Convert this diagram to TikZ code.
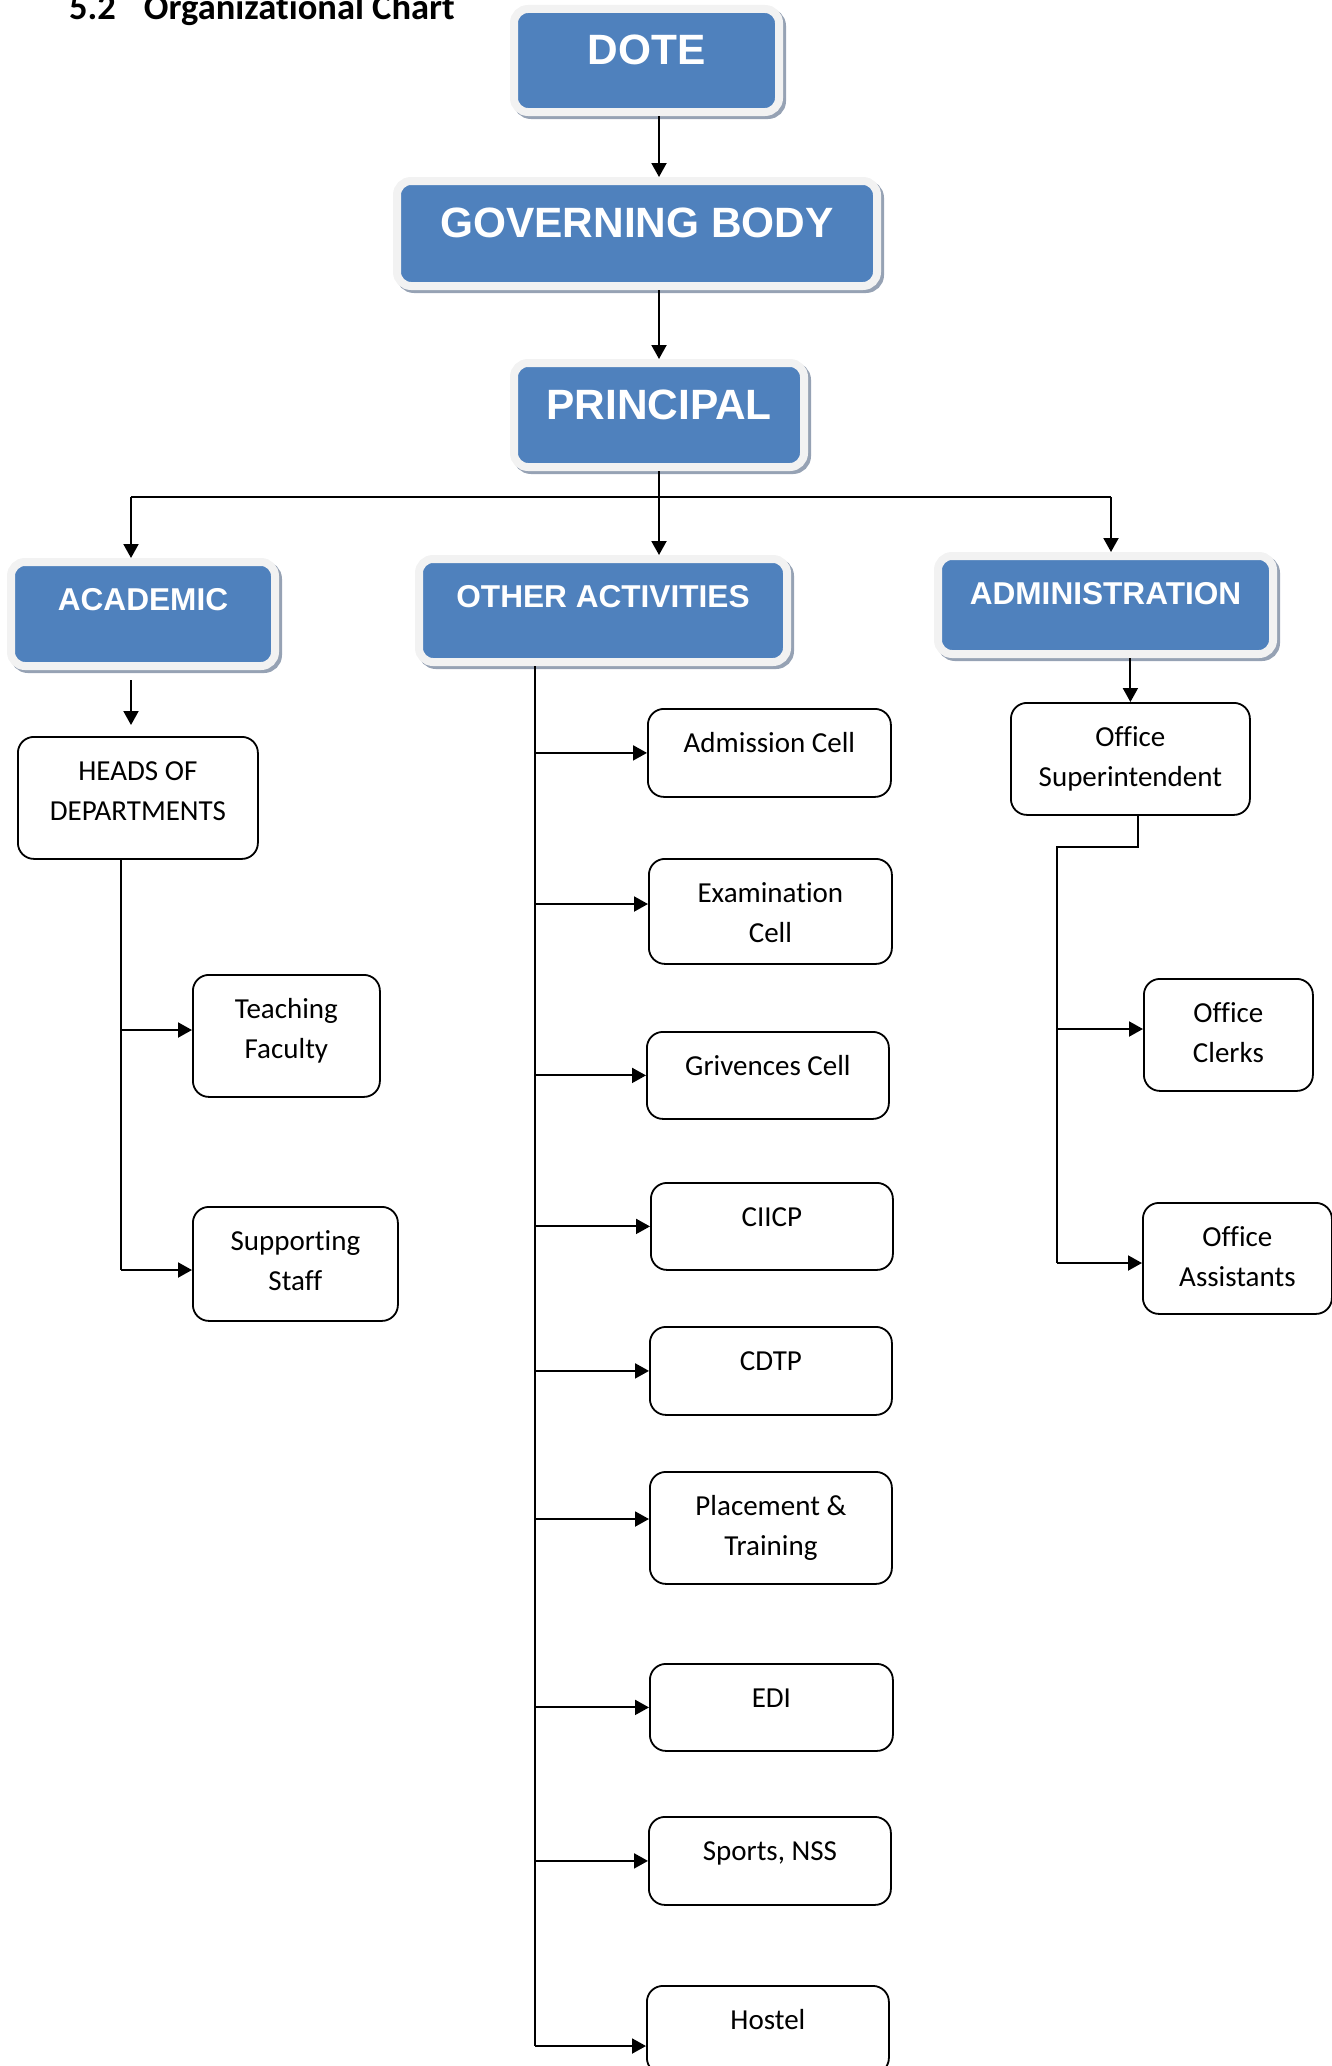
\documentclass[tikz,border=0pt]{standalone}
\usepackage{fontspec}
\setmainfont{Carlito}[Ligatures=NoCommon]
\newfontfamily\headfont{Liberation Sans}
\usetikzlibrary{arrows.meta,shadows}

\definecolor{boxblue}{RGB}{79,129,189}
\definecolor{framegray}{RGB}{242,242,242}
\definecolor{shadowgray}{RGB}{150,162,180}

\newcommand{\boxtext}[4][43.5]{\parbox[c][#3pt][t]{#2pt}{\centering\rule{0pt}{#1pt}#4}}

\begin{document}
\begin{tikzpicture}[%
    x=1pt, y=-1pt,
    >={Triangle[length=14pt,width=15pt]},
    line width=1.6pt,
    bluebox/.style={anchor=north west, inner sep=0pt, outer sep=4pt,
        fill=boxblue, draw=framegray, line width=8pt, rounded corners=14pt,
        text=white, font=\headfont\bfseries\fontsize{31.6}{38}\selectfont,
        drop shadow={shadow xshift=3pt, shadow yshift=-3pt, opacity=1,
            fill=shadowgray, draw=shadowgray, line width=8pt}},
    bigbox/.style={bluebox, font=\headfont\bfseries\fontsize{42.4}{50}\selectfont},
    cell/.style={anchor=north west, inner sep=0pt, draw, line width=1.8pt,
        rounded corners=16pt, font=\fontsize{29}{40.5}\selectfont},
    link/.style={->, line width=2pt}
    ]

    \useasboundingbox (0,0) rectangle (1332,2066);

    \node[anchor=base west, font=\bfseries\fontsize{36.5}{44}\selectfont] (title) at (65,20)
        {5.2\hspace{28pt}Organizational Chart};

    \node[bigbox] (dote) at (510,5) {\boxtext[56]{265}{103}{DOTE}};
    \node[bigbox] (gb) at (393,177) {\boxtext[56]{480}{105}{GOVERNING BODY}};
    \node[bigbox] (prin) at (510,359) {\boxtext[56]{290}{104}{PRINCIPAL}};

    \node[bluebox] (acad) at (7,558) {\boxtext[48.5]{264}{104}{ACADEMIC}};
    \node[bluebox] (oa) at (415,555) {\boxtext[48.5]{368}{103}{OTHER ACTIVITIES}};
    \node[bluebox] (admin) at (934,552) {\boxtext[48.5]{335}{98}{ADMINISTRATION}};

    \node[cell] (hod) at (17,736) {\boxtext{240}{122}{HEADS OF\\DEPARTMENTS}};
    \node[cell] (teach) at (192,974) {\boxtext{187}{122}{Teaching\\Faculty}};
    \node[cell] (supp) at (192,1206) {\boxtext{205}{114}{Supporting\\Staff}};

    \node[cell] (adm) at (647,708) {\boxtext{243}{88}{Admission Cell}};
    \node[cell] (exam) at (648,858) {\boxtext{243}{105}{Examination\\Cell}};
    \node[cell] (griv) at (646,1031) {\boxtext{242}{87}{Grivences Cell}};
    \node[cell] (ciicp) at (650,1182) {\boxtext{242}{87}{CIICP}};
    \node[cell] (cdtp) at (649,1326) {\boxtext{242}{88}{CDTP}};
    \node[cell] (place) at (649,1471) {\boxtext{242}{112}{Placement \&\\Training}};
    \node[cell] (edi) at (649,1663) {\boxtext{243}{87}{EDI}};
    \node[cell] (sports) at (648,1816) {\boxtext{242}{88}{Sports, NSS}};
    \node[cell] (hostel) at (646,1985) {\boxtext{242}{88}{Hostel}};

    \node[cell] (os) at (1010,702) {\boxtext{239}{112}{Office\\Superintendent}};
    \node[cell] (clerks) at (1143,978) {\boxtext{169}{112}{Office\\Clerks}};
    \node[cell] (assist) at (1142,1202) {\boxtext{189}{111}{Office\\Assistants}};

    \coordinate (barL) at (131,497);
    \coordinate (barR) at (1111,497);
    \coordinate (hodbend) at (121,1270);
    \coordinate (oaend) at (535,2046);
    \coordinate (osbend) at (1138,847);
    \coordinate (admL) at (1057,1263);

    \draw[link] (dote.south -| prin.north) -- (gb.north -| prin.north);
    \draw[link] (gb.south -| prin.north) -- (prin.north);
    \draw[link] (prin.south) -- (prin.south |- oa.north);
    \draw (barL) -- (barR);
    \draw[link] (barL) -- (barL |- acad.north);
    \draw[link] (barR) -- (barR |- admin.north);

    \draw[link, shorten <=10pt, shorten >=11pt] (barL |- acad.south) -- (barL |- hod.north);
    \draw (hodbend |- hod.south) -- (hodbend);
    \draw[link] (hodbend |- 0,1030) -- (teach.west |- 0,1030);
    \draw[link] (hodbend) -- (hodbend -| supp.west);

    \draw (oaend |- oa.south) -- (oaend);
    \draw[link] (oaend |- adm.west) -- (adm.west);
    \draw[link] (oaend |- 0,904) -- (exam.west |- 0,904);
    \draw[link] (oaend |- griv.west) -- (griv.west);
    \draw[link] (oaend |- ciicp.west) -- (ciicp.west);
    \draw[link] (oaend |- cdtp.west) -- (cdtp.west);
    \draw[link] (oaend |- 0,1519) -- (place.west |- 0,1519);
    \draw[link] (oaend |- edi.west) -- (edi.west);
    \draw[link] (oaend |- sports.west) -- (sports.west);
    \draw[link] (oaend) -- (oaend -| hostel.west);

    \draw[link] (admin.south -| os.north) -- (os.north);
    \draw (os.south -| osbend) -- (osbend) -- (osbend -| admL) -- (admL);
    \draw[link] (admL |- 0,1029) -- (clerks.west |- 0,1029);
    \draw[link] (admL) -- (admL -| assist.west);

\end{tikzpicture}
\end{document}
